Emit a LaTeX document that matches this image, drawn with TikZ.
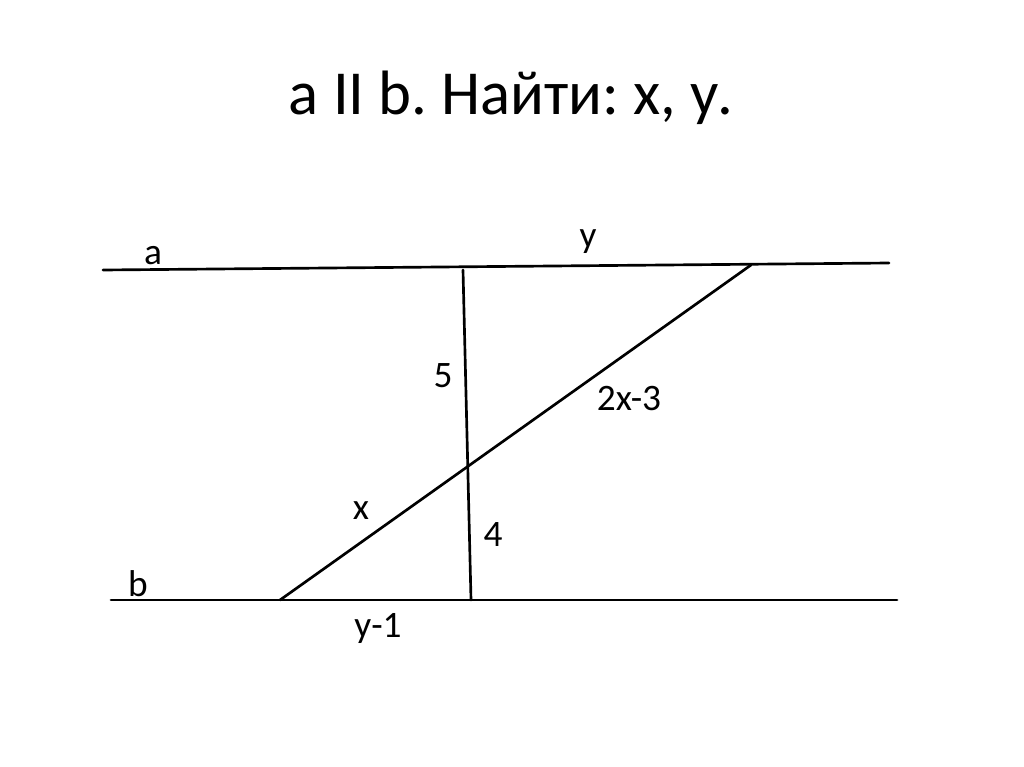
\documentclass[tikz,border=0pt]{standalone}
\usepackage{fontspec}
\setmainfont{Carlito}
\frenchspacing
\begin{document}
\begin{tikzpicture}[x=0.75pt,y=-0.75pt,
  ln/.style={line width=2pt, line cap=round},
  lbl/.style={inner sep=0pt, font=\fontsize{28}{34}\selectfont},
  ttl/.style={inner sep=0pt, font=\fontsize{47}{54}\selectfont}]
\useasboundingbox[fill=white] (0,0) rectangle (1024,767);
\node[ttl] (title) at (511,98) {a II b. Найти: x, у.};
\coordinate (a1) at (103,270);
\coordinate (a2) at (889,263);
\coordinate (b1) at (111,600);
\coordinate (b2) at (897,600);
\coordinate (v1) at (463,270);
\coordinate (v2) at (471,600);
\coordinate (d1) at (280,600);
\coordinate (d2) at (751,265);
\draw[ln] (a1) -- (a2);
\draw[ln] (b1) -- (b2);
\draw[ln] (v1) -- (v2);
\draw[ln] (d1) -- (d2);
\node[lbl] (la) at (153,256) {a};
\node[lbl] (lb) at (138,584) {b};
\node[lbl] (ly) at (588,242) {у};
\node[lbl] (l5) at (443,376) {5};
\node[lbl] (l2x) at (629,399) {2x-3};
\node[lbl] (lx) at (361,511) {x};
\node[lbl] (l4) at (493,535) {4};
\node[lbl] (ly1) at (378,628) {у-1};
\end{tikzpicture}
\end{document}
